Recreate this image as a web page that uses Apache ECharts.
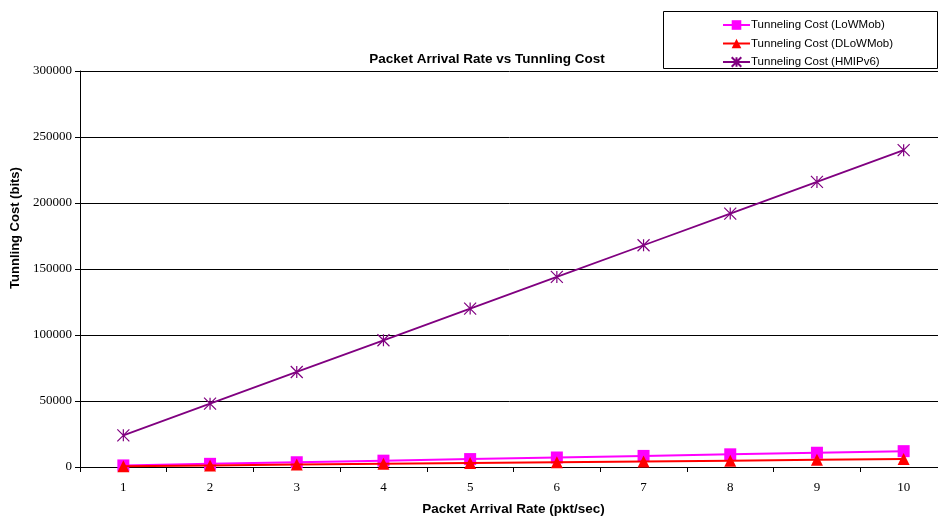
<!DOCTYPE html>
<html>
<head>
<meta charset="utf-8">
<script src="https://cdn.jsdelivr.net/npm/echarts@6/dist/echarts.min.js"></script>
<style>
  html, body { margin: 0; padding: 0; background: #fff; }
  #chart { width: 938px; height: 516px; }
</style>
</head>
<body>
<div id="chart"></div>
<script>
// Packet arrival rate (pkt/sec)
const rates = ['1', '2', '3', '4', '5', '6', '7', '8', '9', '10'];
// Tunneling cost in bits per scheme
const lowmob = [1200, 2400, 3600, 4800, 6000, 7200, 8400, 9600, 10800, 12000];
const dlowmob = [600, 1200, 1800, 2400, 3000, 3600, 4200, 4800, 5400, 6000];
const hmipv6 = [24000, 48000, 72000, 96000, 120000, 144000, 168000, 192000, 216000, 240000];

const seriesNames = [
  'Tunneling Cost (LoWMob)',
  'Tunneling Cost (DLoWMob)',
  'Tunneling Cost (HMIPv6)'
];

const asterisk = 'path://M0,0L10,10M10,0L0,10M5,0L5,10';

const chart = echarts.init(document.getElementById('chart'));
chart.setOption({
  animation: false,
  backgroundColor: '#fff',
  title: {
    text: 'Packet Arrival Rate vs Tunnling Cost',
    left: 482,
    top: 47,
    textAlign: 'center',
    textStyle: { fontFamily: 'Liberation Sans', fontWeight: 'bold', fontSize: 13.5, color: '#000' }
  },
  graphic: [{
    type: 'rect',
    shape: { x: 663.5, y: 11.5, width: 274, height: 57 },
    style: { fill: '#fff', stroke: '#000', lineWidth: 1 },
    z: 0
  }],
  legend: {
    orient: 'vertical',
    left: 717,
    top: 14,
    itemGap: 6.5,
    itemWidth: 27,
    itemHeight: 12,
    data: seriesNames,
    textStyle: { fontFamily: 'Liberation Sans', fontSize: 11.5, color: '#000', padding: [0, 0, 0, -4] },
    z: 5
  },
  grid: { left: 80, top: 71, width: 867, height: 396, outerBoundsMode: 'none', containLabel: false },
  xAxis: {
    type: 'category',
    data: rates,
    boundaryGap: true,
    name: 'Packet Arrival Rate (pkt/sec)',
    nameLocation: 'middle',
    nameGap: 35,
    nameTextStyle: { fontFamily: 'Liberation Sans', fontWeight: 'bold', fontSize: 13.5, color: '#000' },
    axisLine: { lineStyle: { color: '#000', width: 1 } },
    axisTick: { show: true, inside: false, length: 5, alignWithLabel: false, lineStyle: { color: '#000' } },
    axisLabel: { fontFamily: 'Liberation Serif', fontSize: 13, color: '#000', margin: 14 },
    splitLine: { show: false }
  },
  yAxis: {
    type: 'value',
    min: 0,
    max: 300000,
    interval: 50000,
    name: 'Tunnling Cost (bits)',
    nameLocation: 'middle',
    nameGap: 56,
    nameTextStyle: { fontFamily: 'Liberation Sans', fontWeight: 'bold', fontSize: 13, color: '#000', padding: [0, 0, 0, 82] },
    axisLine: { show: true, lineStyle: { color: '#000', width: 1 } },
    axisTick: { show: true, inside: false, length: 5, lineStyle: { color: '#000' } },
    axisLabel: {
      fontFamily: 'Liberation Serif', fontSize: 13, color: '#000', margin: 8,
      formatter: function (v) { return String(v); }
    },
    splitLine: { show: true, lineStyle: { color: '#000', width: 1 } }
  },
  series: [
    {
      name: seriesNames[0],
      type: 'line',
      data: lowmob,
      symbol: 'rect',
      symbolSize: 12,
      lineStyle: { color: '#FF00FF', width: 2 },
      itemStyle: { color: '#FF00FF' },
      z: 3
    },
    {
      name: seriesNames[1],
      type: 'line',
      data: dlowmob,
      symbol: 'triangle',
      symbolSize: 12,
      lineStyle: { color: '#FF0000', width: 2 },
      itemStyle: { color: '#FF0000' },
      z: 4
    },
    {
      name: seriesNames[2],
      type: 'line',
      data: hmipv6,
      symbol: asterisk,
      symbolSize: 12,
      lineStyle: { color: '#800080', width: 1.8 },
      itemStyle: { color: '#800080', borderColor: '#800080', borderWidth: 1.2 },
      z: 5
    }
  ]
});
</script>
</body>
</html>
